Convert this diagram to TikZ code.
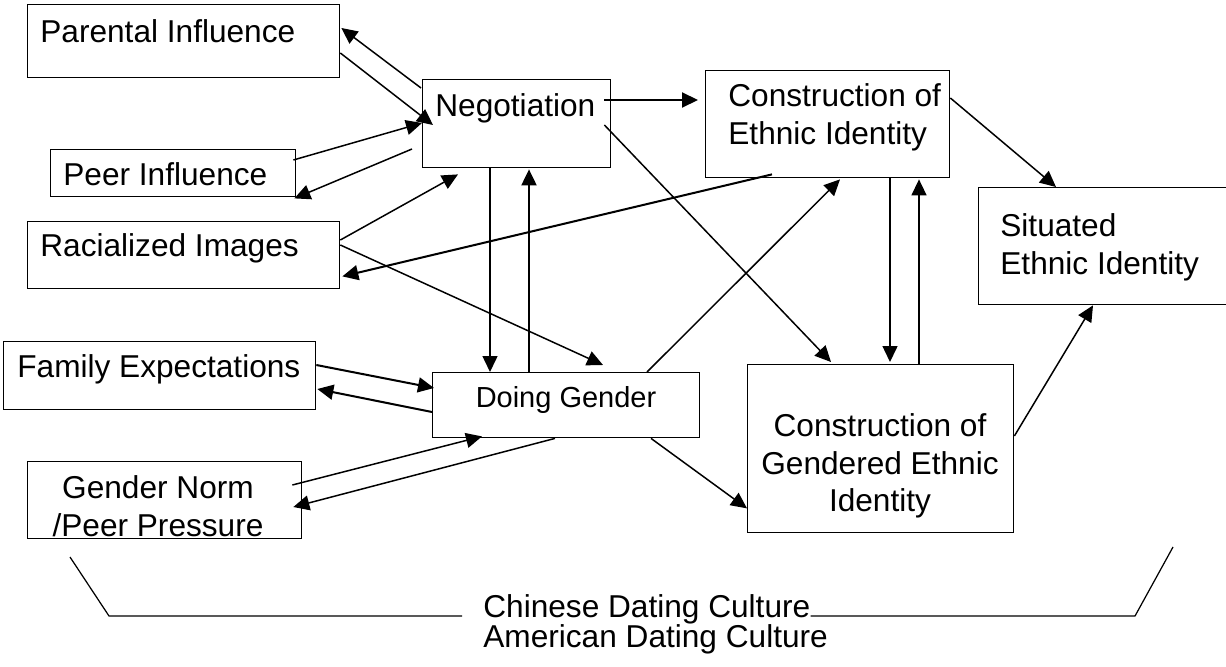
\documentclass[tikz,border=0pt]{standalone}
\usepackage{fontspec}
\setmainfont{Liberation Sans}
\usepackage{tikz}
\usetikzlibrary{arrows.meta, calc}
\newcommand\boxfont{\fontsize{18}{21.5}\selectfont}
\newcommand\smallboxfont{\fontsize{16.5}{20}\selectfont}

\begin{document}
\begin{tikzpicture}[
  x = 0.02cm, y = -0.02cm,
  %
  % ── Node styles ─────────────────────────────────────────────────
  box/.style     = {draw, line width=0.8pt, inner sep=0pt,
                    anchor=north west},
  txt/.style     = {inner sep=0pt, font=\boxfont},
  arrow/.style   = {-{Triangle[length=0.32cm, width=0.3cm]}, line width=0.85pt},
  tarrow/.style  = {arrow, line width=1.15pt},
  bracket/.style = {line width=0.7pt},
]

\useasboundingbox (0,0) rectangle (1226,666);
\clip (0,0) rectangle (1226,666);

%% ═══════════════════════════════════════════════════════════════════
%% LEFT COLUMN — influences
%% ═══════════════════════════════════════════════════════════════════

\node[box, minimum width=6.24cm, minimum height=1.46cm] (parental) at (27,4) {};
\node[txt, anchor=base west] (parental-txt)
  at ([shift={(13,38)}]parental.north west) {Parental Influence};

\node[box, minimum width=4.90cm, minimum height=0.94cm] (peer) at (50,149) {};
\node[txt, anchor=base west] (peer-txt)
  at ([shift={(13,36)}]peer.north west) {Peer Influence};

\node[box, minimum width=6.24cm, minimum height=1.34cm] (racial) at (27,221) {};
\node[txt, anchor=base west] (racial-txt)
  at ([shift={(13,35)}]racial.north west) {Racialized Images};

\node[box, minimum width=6.24cm, minimum height=1.36cm] (family) at (3,341) {};
\node[txt, anchor=base west] (family-txt)
  at ([shift={(14,36)}]family.north west) {Family Expectations};

\node[box, minimum width=5.48cm, minimum height=1.54cm] (norm) at (27,461) {};
\node[txt, anchor=north, align=center] (norm-txt)
  at ([shift={(131,14)}]norm.north west) {Gender Norm\\/Peer Pressure};

%% ═══════════════════════════════════════════════════════════════════
%% MIDDLE — negotiation and doing gender
%% ═══════════════════════════════════════════════════════════════════

\node[box, minimum width=3.76cm, minimum height=1.76cm] (nego) at (422,79) {};
\node[txt, anchor=base west] (nego-txt)
  at ([shift={(13,37)}]nego.north west) {Negotiation};

\node[box, minimum width=5.34cm, minimum height=1.30cm] (doing) at (432,372) {};
\node[txt, anchor=base, font=\smallboxfont] (doing-txt)
  at ([shift={(134,35)}]doing.north west) {Doing Gender};

%% ═══════════════════════════════════════════════════════════════════
%% RIGHT — constructions and situated identity
%% ═══════════════════════════════════════════════════════════════════

\node[box, minimum width=4.88cm, minimum height=2.14cm] (ethnic) at (705,70) {};
\node[txt, anchor=north west, align=left] (ethnic-txt)
  at ([shift={(23,13)}]ethnic.north west) {Construction of\\Ethnic Identity};

\node[box, minimum width=5.32cm, minimum height=3.36cm] (gendered) at (747,364) {};
\node[txt, anchor=north, align=center] (gendered-txt)
  at ([shift={(133,49)}]gendered.north west)
  {Construction of\\Gendered Ethnic\\Identity};

% right edge runs off the page
\node[box, minimum width=5.60cm, minimum height=2.34cm] (situated) at (978,187) {};
\node[txt, anchor=north west, align=left] (situated-txt)
  at ([shift={(22,26)}]situated.north west) {Situated\\Ethnic Identity};

%% ── Arrows: left column <-> negotiation ──────────────────────────
\draw[arrow] ([shift={(-1,9)}]nego.north west)    -- ([shift={(1,24)}]parental.north east);
\draw[arrow] ([shift={(0,49)}]parental.north east) -- ([shift={(11,46)}]nego.north west);
\draw[arrow] ([shift={(-3,11)}]peer.north east)    -- ([shift={(0,44)}]nego.north west);
\draw[arrow] ([shift={(-10,70)}]nego.north west)   -- ([shift={(-2,1)}]peer.south east);
\draw[arrow] ([shift={(0,19)}]racial.north east)   -- ([shift={(36,6)}]nego.south west);
\draw[tarrow] ([shift={(67,-4)}]ethnic.south west) -- ([shift={(2,-13)}]racial.south east);
\draw[arrow] ([shift={(0,24)}]racial.north east)   -- ([shift={(171,-7)}]doing.north west);

%% ── Arrows: left column <-> doing gender ─────────────────────────
\draw[tarrow] ([shift={(0,24)}]family.north east)  -- ([shift={(2,16)}]doing.north west);
\draw[tarrow] ([shift={(0,40)}]doing.north west)   -- ([shift={(1,48)}]family.north east);
\draw[arrow] ([shift={(-10,24)}]norm.north east)   -- ([shift={(50,-2)}]doing.south west);
\draw[arrow] ([shift={(123,0)}]doing.south west)   -- ([shift={(-9,46)}]norm.north east);

%% ── Arrows: negotiation <-> doing gender ─────────────────────────
\draw[arrow]  ([shift={(68,0)}]nego.south west)    -- ([shift={(58,0)}]doing.north west);
\draw[tarrow] ([shift={(97,0)}]doing.north west)   -- ([shift={(107,1)}]nego.south west);

%% ── Arrows: towards the constructions ────────────────────────────
\draw[tarrow] ([shift={(-7,21)}]nego.north east)   -- ([shift={(-7,30)}]ethnic.north west);
\draw[arrow] ([shift={(-7,46)}]nego.north east)    -- ([shift={(84,-2)}]gendered.north west);
\draw[arrow] ([shift={(215,0)}]doing.north west)   -- ([shift={(135,1)}]ethnic.south west);
\draw[arrow] ([shift={(219,0)}]doing.south west)   -- ([shift={(0,-25)}]gendered.south west);
\draw[arrow] ([shift={(185,0)}]ethnic.south west)  -- ([shift={(143,-2)}]gendered.north west);
\draw[arrow] ([shift={(172,0)}]gendered.north west) -- ([shift={(214,1)}]ethnic.south west);
\draw[arrow] ([shift={(0,28)}]ethnic.north east)   -- ([shift={(78,0)}]situated.north west);
\draw[arrow] ([shift={(0,72)}]gendered.north east) -- ([shift={(115,0)}]situated.south west);

%% ═══════════════════════════════════════════════════════════════════
%% BOTTOM — dating cultures bracket
%% ═══════════════════════════════════════════════════════════════════

\node[txt, anchor=base west] (chinese) at (483,617) {Chinese Dating Culture};
\node[txt, anchor=base west] (american)
  at ([shift={(0,30)}]chinese.base west) {American Dating Culture};

\coordinate (lb-top)  at (70,557);
\coordinate (lb-bend) at (109,616);
\coordinate (rb-bend) at (1135,616);
\coordinate (rb-top)  at (1173,547);

\draw[bracket] (lb-top) -- (lb-bend) -- ([shift={(-21,-1)}]chinese.base west);
\draw[bracket] ([shift={(0,-1)}]chinese.base east) -- (rb-bend) -- (rb-top);

\end{tikzpicture}
\end{document}
